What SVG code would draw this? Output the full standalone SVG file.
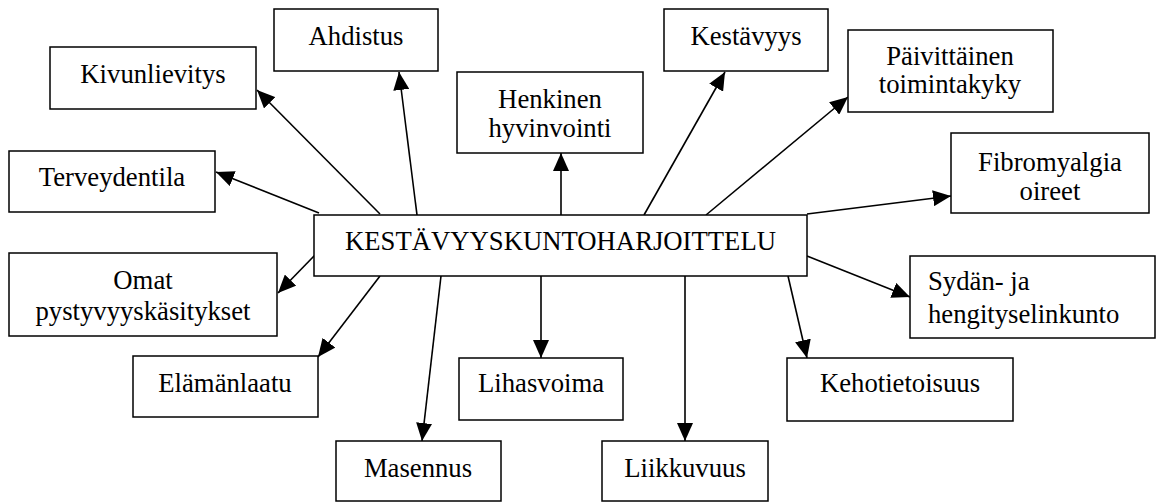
<svg xmlns="http://www.w3.org/2000/svg" width="1157" height="502" viewBox="0 0 1157 502">
<style>
.box{fill:#fff;stroke:#000;stroke-width:1.5}
.c{stroke:#000;stroke-width:1.6;fill:none;marker-end:url(#ah)}
</style>
<defs>
<marker id="ah" markerUnits="userSpaceOnUse" markerWidth="18" markerHeight="16" refX="18" refY="8" orient="auto">
<path d="M0,0 L18,8 L0,16 z" fill="#000"/>
</marker>
</defs>
<rect width="1157" height="502" fill="#fff"/>
<g id="connectors">
<line class="c" x1="319" y1="213" x2="216" y2="172"/>
<line class="c" x1="380" y1="214" x2="257" y2="90"/>
<line class="c" x1="417" y1="215" x2="399" y2="72"/>
<line class="c" x1="561" y1="215" x2="561" y2="153"/>
<line class="c" x1="644" y1="215" x2="725" y2="72"/>
<line class="c" x1="706" y1="215" x2="848" y2="97"/>
<line class="c" x1="807" y1="214" x2="951" y2="196"/>
<line class="c" x1="807" y1="256" x2="910" y2="297"/>
<line class="c" x1="788" y1="276" x2="807" y2="358"/>
<line class="c" x1="685" y1="276" x2="685" y2="441"/>
<line class="c" x1="541" y1="276" x2="541" y2="358"/>
<line class="c" x1="441" y1="276" x2="422" y2="441"/>
<line class="c" x1="380" y1="276" x2="318" y2="357"/>
<line class="c" x1="316" y1="254" x2="278" y2="293"/>
</g>
<g font-family="Liberation Serif" font-size="26.7" fill="#000" text-anchor="middle">
<g id="central"><rect class="box" x="314" y="215" width="493" height="61"/><text x="560.5" y="250">KESTÄVYYSKUNTOHARJOITTELU</text></g>
<g id="ahdistus"><rect class="box" x="274" y="9" width="164" height="62"/><text x="356" y="45">Ahdistus</text></g>
<g id="kivunlievitys"><rect class="box" x="50" y="47" width="206" height="62"/><text x="153" y="83">Kivunlievitys</text></g>
<g id="terveydentila"><rect class="box" x="9" y="151" width="206" height="61"/><text x="112" y="186">Terveydentila</text></g>
<g id="henkinen"><rect class="box" x="457" y="72" width="186" height="81"/><text x="550" y="108">Henkinen</text><text x="550" y="137">hyvinvointi</text></g>
<g id="kestavyys"><rect class="box" x="664" y="9" width="164" height="62"/><text x="746" y="45">Kestävyys</text></g>
<g id="paivittainen"><rect class="box" x="848" y="30" width="205" height="82"/><text x="950" y="65">Päivittäinen</text><text x="950" y="93">toimintakyky</text></g>
<g id="fibromyalgia"><rect class="box" x="951" y="133" width="198" height="80"/><text x="1050" y="171">Fibromyalgia</text><text x="1050" y="200">oireet</text></g>
<g id="omat"><rect class="box" x="9" y="253" width="268" height="83"/><text x="143" y="289">Omat</text><text x="143" y="320">pystyvyyskäsitykset</text></g>
<g id="sydan"><rect class="box" x="910" y="256" width="245" height="82"/><text x="928" y="290" text-anchor="start">Sydän- ja</text><text x="928" y="323" text-anchor="start">hengityselinkunto</text></g>
<g id="elamanlaatu"><rect class="box" x="133" y="356" width="185" height="61"/><text x="225" y="392">Elämänlaatu</text></g>
<g id="lihasvoima"><rect class="box" x="459" y="358" width="164" height="62"/><text x="541" y="392">Lihasvoima</text></g>
<g id="kehotietoisuus"><rect class="box" x="787" y="358" width="226" height="63"/><text x="900" y="392">Kehotietoisuus</text></g>
<g id="masennus"><rect class="box" x="336" y="441" width="165" height="60"/><text x="418" y="477">Masennus</text></g>
<g id="liikkuvuus"><rect class="box" x="602" y="441" width="166" height="60"/><text x="685" y="477">Liikkuvuus</text></g>
</g>
</svg>
